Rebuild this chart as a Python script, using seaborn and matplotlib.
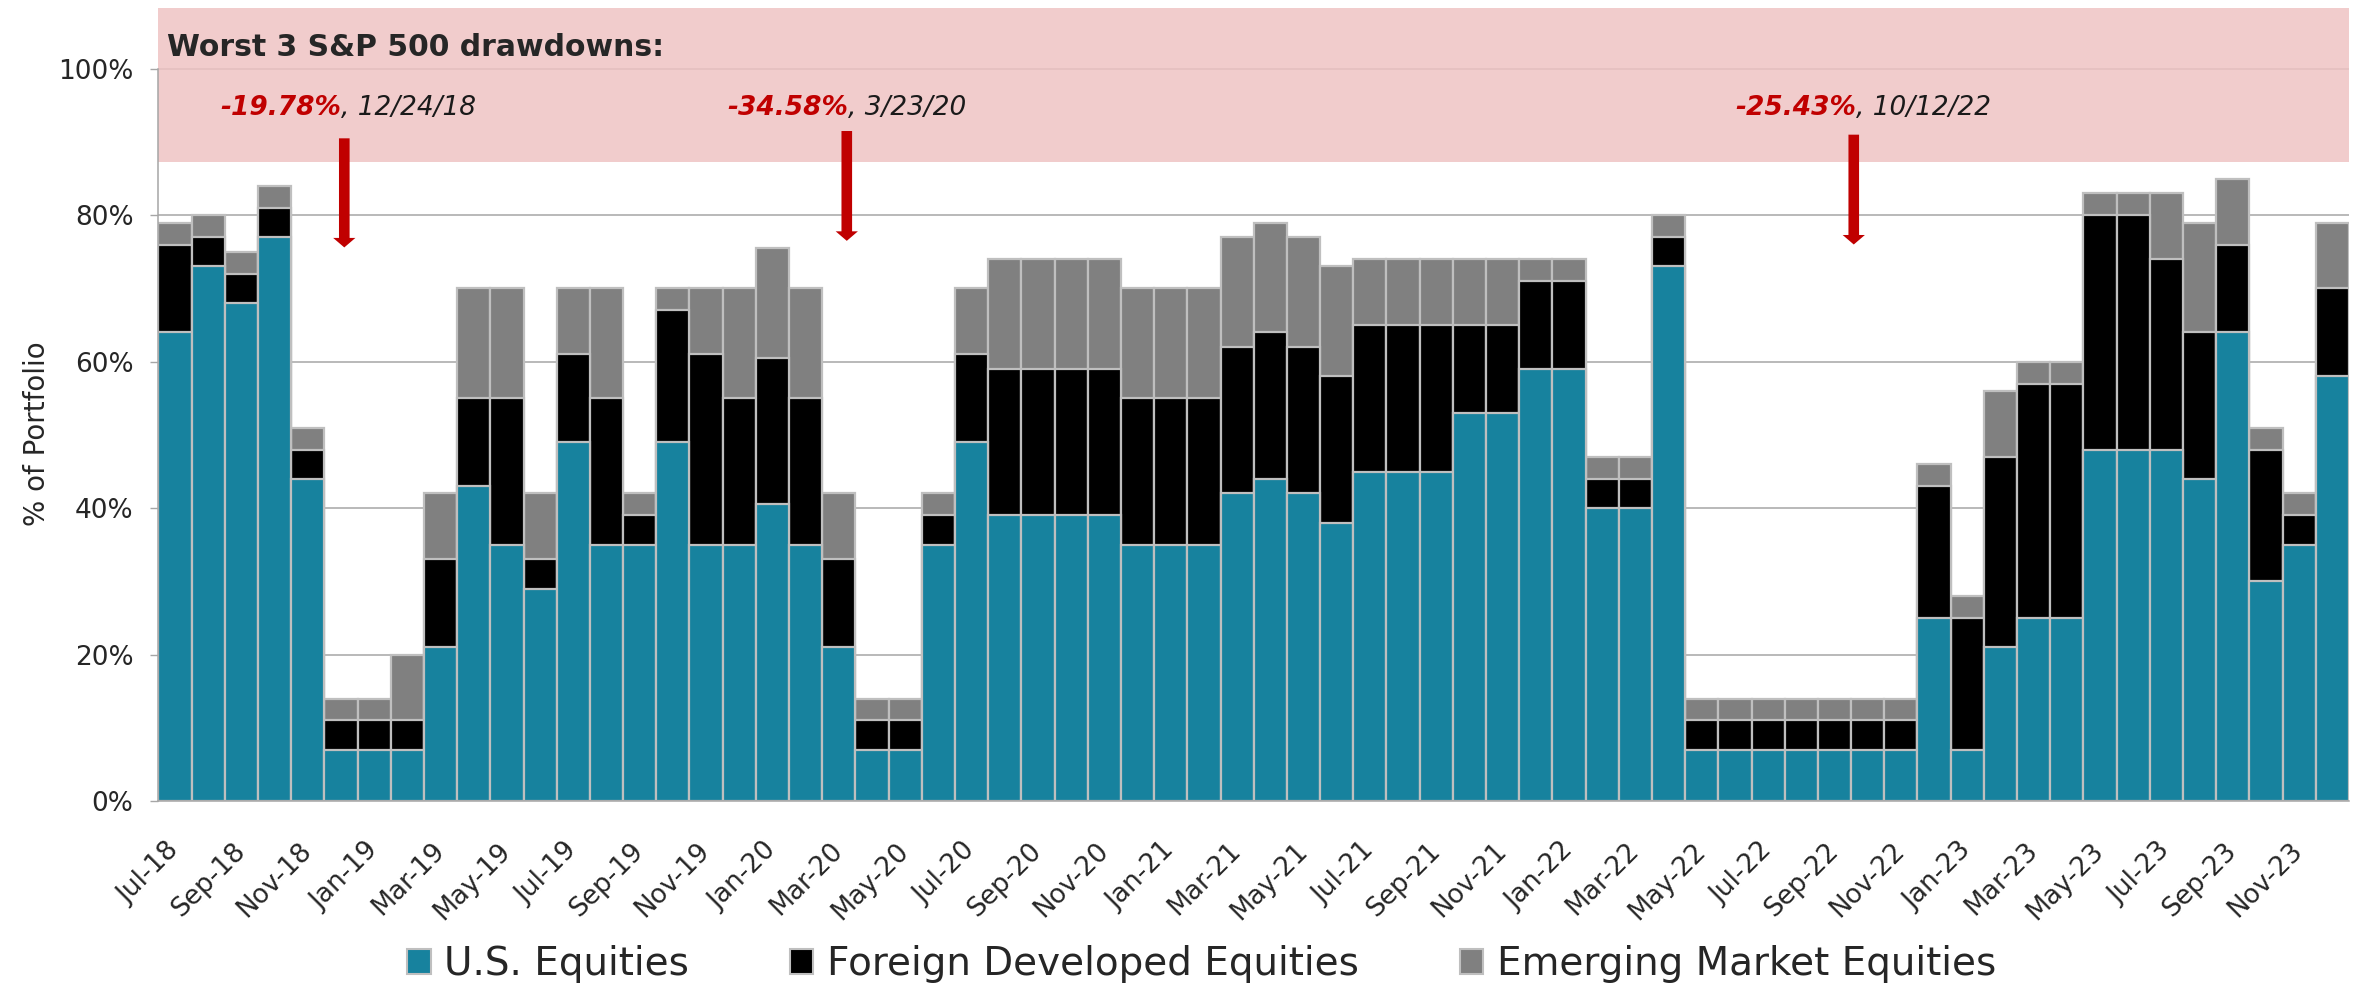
import numpy as np
import pandas as pd
import matplotlib
matplotlib.use("Agg")
import matplotlib.pyplot as plt
from matplotlib.patches import Patch
import seaborn as sns

# monthly allocations, Jul-18 .. Dec-23 (% of portfolio)
months = pd.date_range("2018-07-01", "2023-12-01", freq="MS").strftime("%b-%y").tolist()

us_equities = [64, 73, 68, 77, 44, 7, 7, 7, 21, 43, 35, 29,
               49, 35, 35, 49, 35, 35, 40.5, 35, 21, 7, 7, 35,
               49, 39, 39, 39, 39, 35, 35, 35, 42, 44, 42, 38,
               45, 45, 45, 53, 53, 59, 59, 40, 40, 73, 7, 7,
               7, 7, 7, 7, 7, 25, 7, 21, 25, 25, 48, 48,
               48, 44, 64, 30, 35, 58]
foreign_dev = [12, 4, 4, 4, 4, 4, 4, 4, 12, 12, 20, 4,
               12, 20, 4, 18, 26, 20, 20, 20, 12, 4, 4, 4,
               12, 20, 20, 20, 20, 20, 20, 20, 20, 20, 20, 20,
               20, 20, 20, 12, 12, 12, 12, 4, 4, 4, 4, 4,
               4, 4, 4, 4, 4, 18, 18, 26, 32, 32, 32, 32,
               26, 20, 12, 18, 4, 12]
emerging = [3, 3, 3, 3, 3, 3, 3, 9, 9, 15, 15, 9,
            9, 15, 3, 3, 9, 15, 15, 15, 9, 3, 3, 3,
            9, 15, 15, 15, 15, 15, 15, 15, 15, 15, 15, 15,
            9, 9, 9, 9, 9, 3, 3, 3, 3, 3, 3, 3,
            3, 3, 3, 3, 3, 3, 3, 9, 3, 3, 3, 3,
            9, 15, 9, 3, 3, 9]

series_names = ["U.S. Equities", "Foreign Developed Equities", "Emerging Market Equities"]
tick_labels = months[::2]

# drawdown callouts: (bold part, date part, x of text end, x of arrow, arrow top, arrow tip)
drawdowns = [("-19.78%", ", 12/24/18", 5.0, 5.1, 90.5, 75.6),
             ("-34.58%", ", 3/23/20", 20.27, 20.24, 91.5, 76.5),
             ("-25.43%", ", 10/12/22", 50.66, 50.58, 91.0, 76.0)]

teal = "#17829E"
black = "#000000"
grey = "#808080"
edge = "#BFBFBF"
red = "#C00000"

df = pd.DataFrame({"month": months, "us": us_equities,
                   "fd": foreign_dev, "em": emerging})
df["top_fd"] = df["us"] + df["fd"]
df["top_em"] = df["top_fd"] + df["em"]

sns.set_style("white")
plt.rcParams["font.family"] = ["DejaVu Sans"]

fig = plt.figure(figsize=(23.61, 9.86), dpi=100)
ax = fig.add_axes([0.0671, 0.1876, 0.9278, 0.8043])

# stacked bars drawn as layered cumulative totals
for col, color in [("top_em", grey), ("top_fd", black), ("us", teal)]:
    sns.barplot(data=df, x="month", y=col, order=months, color=color,
                saturation=1, width=1.0, edgecolor=edge, linewidth=1.6,
                errorbar=None, ax=ax)

ax.set_xlim(-0.5, len(months) - 0.5)
ax.set_ylim(0, 108.3)

# shaded drawdown band (mostly hides the 100% gridline)
ax.axhspan(87.2, 108.3, color="#EFC3C3", alpha=0.85, lw=0, zorder=0.8)

ax.set_yticks(range(0, 101, 20))
ax.set_yticklabels([f"{v}%" for v in range(0, 101, 20)], fontsize=19)
ax.yaxis.grid(True, color="#A6A6A6", linewidth=1.1)
ax.set_axisbelow(True)

ax.set_xticks(range(0, len(months), 2))
ax.set_xticklabels(tick_labels, fontsize=19, rotation=45, ha="right",
                   va="center", rotation_mode="anchor")
ax.set_xticks(np.arange(-0.5, len(months), 2), minor=True)
ax.tick_params(axis="x", which="major", length=0, pad=33)
ax.tick_params(axis="x", which="minor", length=6.5, width=1, color="#A6A6A6")
ax.tick_params(axis="y", length=6, width=1, color="#A6A6A6", pad=12, left=True)

ax.set_xlabel("")
ax.set_ylabel("% of Portfolio", fontsize=20)
ax.yaxis.set_label_coords(-0.049, 0.463)

for side in ["top", "right"]:
    ax.spines[side].set_visible(False)
for side in ["left", "bottom"]:
    ax.spines[side].set_color("#A6A6A6")
    ax.spines[side].set_linewidth(1.1)
ax.spines["left"].set_bounds(0, 100)

ax.text(-0.24, 101.8, "Worst 3 S&P 500 drawdowns:", fontsize=21.5,
        fontweight="bold", ha="left", va="baseline")

for bold, date, xt, xa, ytop, ytip in drawdowns:
    ax.text(xt, 93.7, bold, color=red, fontsize=19, fontweight="bold",
            fontstyle="italic", ha="right", va="baseline")
    ax.text(xt, 93.7, date, color="#1a1a1a", fontsize=19,
            fontstyle="italic", ha="left", va="baseline")
    ax.arrow(xa, ytop, 0, ytip - ytop, width=0.32, head_width=0.67,
             head_length=1.3, length_includes_head=True, color=red,
             lw=0, zorder=4)

handles = [Patch(facecolor=c, edgecolor=edge, linewidth=1.5)
           for c in [teal, black, grey]]
fig.legend(handles, series_names, loc="center", bbox_to_anchor=(0.509, 0.022),
           ncol=3, frameon=False, fontsize=28, handlelength=0.6,
           handleheight=0.6, handletextpad=0.35, columnspacing=2.6)

fig.savefig("out.png", dpi=100)
